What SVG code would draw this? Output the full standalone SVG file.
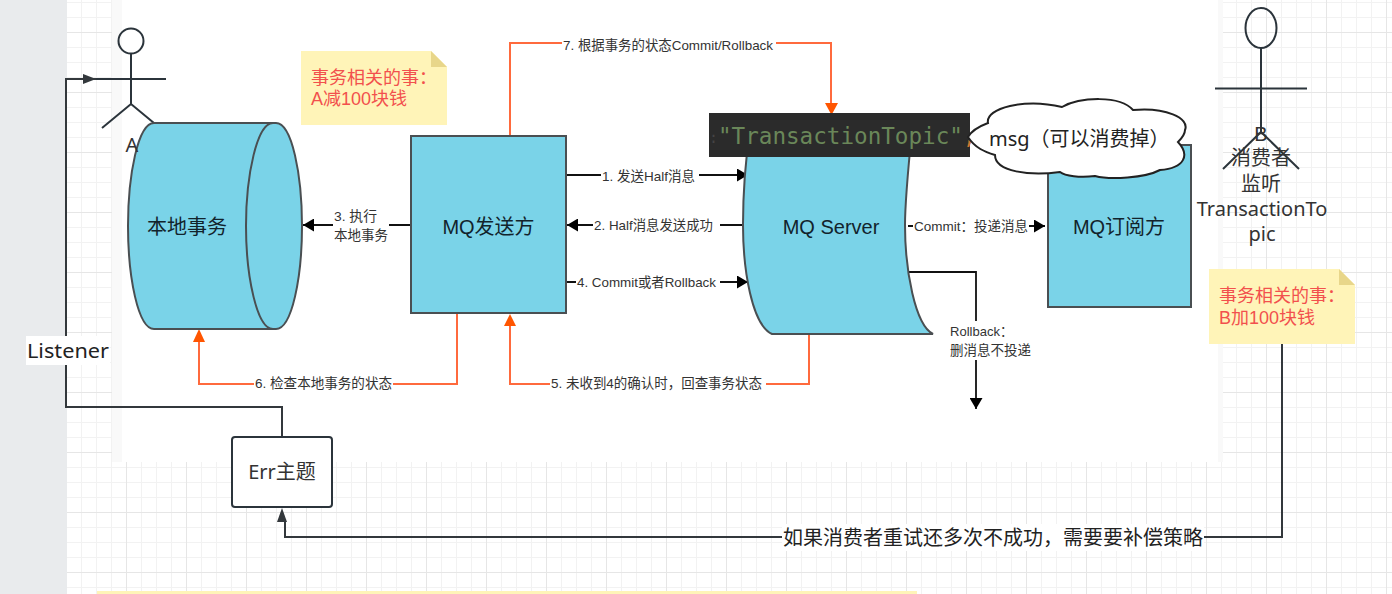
<svg xmlns="http://www.w3.org/2000/svg" width="1392" height="594" viewBox="0 0 1392 594">
<style>
text{font-family:"Noto Sans","Noto Sans CJK SC",sans-serif}
.main{font-family:"Liberation Sans","Noto Sans CJK SC",sans-serif;font-size:20px;fill:#12232c;text-anchor:middle}
.lab{font-family:"Liberation Sans","Noto Sans CJK SC",sans-serif;font-size:13.5px;fill:#333}
.note{font-family:"Liberation Sans","Noto Sans CJK SC",sans-serif;font-size:18px;fill:#f2504d}
.act{font-size:20px;fill:#333;text-anchor:middle}
.tight{font-family:"Liberation Sans","Noto Sans CJK SC",sans-serif}
.shape{fill:#7ad3e8;stroke:#4a4f52;stroke-width:2}
.fig{fill:none;stroke:#2b343b;stroke-width:2}
.blk{fill:none;stroke:#111;stroke-width:1.8}
.org{fill:none;stroke:#ff6a3d;stroke-width:2}
.drk{fill:none;stroke:#33383c;stroke-width:2}
.bg{fill:#fff}
.code{font-family:"DejaVu Sans Mono",monospace}
</style>
<defs>
<pattern id="grid" patternUnits="userSpaceOnUse" x="6" y="32" width="60" height="60">
<path d="M15.5 0V60M30.5 0V60M45.5 0V60M0 15.5H60M0 30.5H60M0 45.5H60" stroke="#f2f2f2" fill="none"/>
<path d="M0.5 0V60M0 0.5H60" stroke="#e6e6e6" fill="none"/>
</pattern>
<marker id="ab" markerUnits="userSpaceOnUse" markerWidth="12" markerHeight="13" refX="11" refY="6.5" orient="auto"><path d="M0 0L11 6.500L0 13z" fill="#000"/></marker>
<marker id="ad" markerUnits="userSpaceOnUse" markerWidth="14" markerHeight="12" refX="13" refY="5" orient="auto"><path d="M0 0L13 5L0 10L0 0z" fill="#33383c"/></marker>
</defs>

<rect width="1392" height="594" fill="#fff"/>
<rect x="67" y="0" width="1325" height="594" fill="url(#grid)"/>
<rect x="0" y="0" width="67" height="594" fill="#e9ebed"/>
<rect x="112" y="0" width="1111" height="462" fill="#f9f9f9"/>
<rect x="122" y="0" width="1096" height="462" fill="#fff"/>
<rect x="97" y="591" width="820" height="3" fill="#fff4b8"/>

<g id="connectors">
<path class="org" d="M510 136V43H831V104"/>
<path d="M825 103H838L831.500 115z" fill="#ff5500"/>
<rect class="bg" x="562" y="34" width="214" height="18"/>
<text class="lab" x="563" y="50" textLength="210" lengthAdjust="spacingAndGlyphs">7. 根据事务的状态Commit/Rollback</text>

<path class="org" d="M457 313V384H199V340"/>
<path d="M193 342H205L199 329z" fill="#ff5500"/>
<rect class="bg" x="254" y="375" width="139" height="18"/>
<text class="lab" x="255" y="388" textLength="137" lengthAdjust="spacingAndGlyphs">6. 检查本地事务的状态</text>

<path class="org" d="M809 334V384H510V325"/>
<path d="M504 326H516L510 314z" fill="#ff5500"/>
<rect class="bg" x="550" y="375" width="216" height="18"/>
<text class="lab" x="551" y="388" textLength="211" lengthAdjust="spacingAndGlyphs">5. 未收到4的确认时，回查事务状态</text>

<path class="blk" d="M566 175H748" marker-end="url(#ab)"/>
<rect class="bg" x="601" y="167" width="98" height="18"/>
<text class="lab" x="602" y="181" textLength="93" lengthAdjust="spacingAndGlyphs">1. 发送Half消息</text>

<path class="blk" d="M742 225H567" marker-end="url(#ab)"/>
<rect class="bg" x="593" y="216" width="127" height="18"/>
<text class="lab" x="594" y="230" textLength="119" lengthAdjust="spacingAndGlyphs">2. Half消息发送成功</text>

<path class="blk" d="M411 225H303" marker-end="url(#ab)"/>
<rect class="bg" x="333" y="208" width="56" height="36"/>
<text class="lab" x="334" y="221" textLength="43" lengthAdjust="spacingAndGlyphs">3. 执行</text>
<text class="lab" x="334" y="240" textLength="54" lengthAdjust="spacingAndGlyphs">本地事务</text>

<path class="blk" d="M566 282H748" marker-end="url(#ab)"/>
<rect class="bg" x="576" y="274" width="144" height="18"/>
<text class="lab" x="577" y="287" textLength="139" lengthAdjust="spacingAndGlyphs">4. Commit或者Rollback</text>

<path class="blk" d="M908 226H1045" marker-end="url(#ab)"/>
<rect class="bg" x="913" y="218" width="116" height="18"/>
<text class="lab" x="914" y="231" textLength="114" lengthAdjust="spacingAndGlyphs">Commit：投递消息</text>

<path class="blk" d="M908 272H976V409" marker-end="url(#ab)"/>
<rect class="bg" x="949" y="321" width="84" height="39"/>
<text class="lab" x="950" y="336" textLength="63" lengthAdjust="spacingAndGlyphs">Rollback：</text>
<text class="lab" x="950" y="355" textLength="81" lengthAdjust="spacingAndGlyphs">删消息不投递</text>

<path class="drk" d="M282 437V407H66V79H96" marker-end="url(#ad)"/>
<rect class="bg" x="26" y="336" width="84" height="29"/>
<text x="27" y="358" font-size="20" fill="#222" textLength="82" lengthAdjust="spacingAndGlyphs">Listener</text>

<path class="drk" d="M1282 344V537H285V520"/>
<path d="M282 508L287 522H277z" fill="#33383c"/>
<rect class="bg" x="782" y="524" width="422" height="27"/>
<text x="783" y="545" font-size="20" fill="#222" textLength="420" lengthAdjust="spacingAndGlyphs">如果消费者重试还多次不成功，需要要补偿策略</text>
</g>

<g id="actorA">
<circle class="fig" cx="131" cy="41" r="12.500"/>
<path class="fig" d="M131 54V104M96 79H166M102 128L131 104L160 128"/>
</g>
<g id="localTx">
<path class="shape" d="M154 123H276C292 123 302 175 302 226C302 277 292 329 276 329H154C138 329 128 277 128 226C128 175 138 123 154 123z"/>
<path class="shape" d="M273 123C257 123 246 175 246 226C246 277 257 329 273 329"/>
<text class="main" x="187" y="234">本地事务</text>
<text class="act" x="132" y="152">A</text>
</g>
<g id="noteA">
<path d="M301 51H431L447 67V125H301z" fill="#fff4b8"/>
<path d="M431 51L447 67H431z" fill="#e8d68a"/>
<text class="note" x="311" y="84">事务相关的事：</text>
<text class="note" x="311" y="105">A减100块钱</text>
</g>
<g id="sender">
<rect class="shape" x="411" y="136" width="155" height="177"/>
<text class="main" x="488.500" y="234">MQ发送方</text>
</g>
<g id="server">
<path class="shape" d="M750 130C744 170 743 200 743 225C743 270 752 325 772 334H933C915 325 905 270 905 225C905 200 908 170 912 130z"/>
<text class="main" x="831" y="234">MQ Server</text>
</g>
<g id="topicCode">
<rect x="709" y="113" width="261" height="44" fill="#2b2b2b"/>
<text class="code" x="709" y="143" font-size="15" fill="#444">:</text>
<text class="code" x="718" y="144" font-size="22.600" fill="#6a8759">"TransactionTopic"<tspan fill="#cc7832">,</tspan></text>
</g>
<g id="subscriber">
<rect class="shape" x="1048" y="145" width="143" height="162"/>
<text class="main" x="1119" y="234">MQ订阅方</text>
</g>
<g id="cloud">
<path d="M968 137C972 130 980 126 988 123C985 108 1025 98 1062 107C1080 97 1120 95 1133 110C1165 107 1190 118 1185 130C1185 135 1180 140 1178 142C1190 155 1185 168 1160 170C1145 178 1110 180 1095 176C1080 178 1065 176 1060 172C1030 176 995 172 995 155C985 152 975 148 968 137z" fill="#fff" stroke="#222" stroke-width="2"/>
<text x="989" y="146" font-size="20" fill="#222">msg（可以消费掉）</text>
</g>
<g id="actorB">
<ellipse class="fig" cx="1261" cy="28" rx="15.500" ry="20"/>
<path class="fig" d="M1261 48V132M1215 88.500H1307M1223 169L1261 132L1299 169"/>
<text class="act tight" x="1261" y="141">B</text>
<text class="act tight" x="1261" y="165">消费者</text>
<text class="act tight" x="1261" y="191">监听</text>
<text class="act" x="1262" y="216">TransactionTo</text>
<text class="act" x="1262" y="241">pic</text>
</g>
<g id="noteB">
<path d="M1209 269H1339L1355 285V344H1209z" fill="#fff4b8"/>
<path d="M1339 269L1355 285H1339z" fill="#e8d68a"/>
<text class="note" x="1219" y="302">事务相关的事：</text>
<text class="note" x="1219" y="324">B加100块钱</text>
</g>
<g id="errTopic">
<rect x="232" y="437" width="100" height="70" rx="3" fill="#fff" stroke="#2b343b" stroke-width="2"/>
<text class="act" x="282" y="479">Err主题</text>
</g>
</svg>
